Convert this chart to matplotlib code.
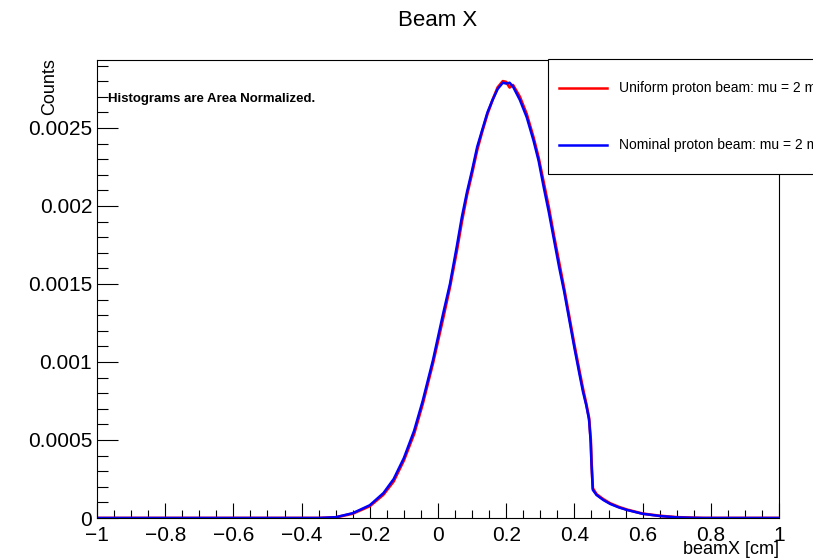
import matplotlib
matplotlib.use("Agg")
import matplotlib.pyplot as plt
from matplotlib.lines import Line2D
from matplotlib.patches import Rectangle
from matplotlib.ticker import FixedLocator, MultipleLocator

plt.rcParams["font.family"] = ["Liberation Sans", "DejaVu Sans"]

# beam X positions (cm) and area-normalized counts (x 1e-3)
beam_x = [-1.0, -0.35, -0.30, -0.25, -0.20, -0.16, -0.13, -0.10, -0.07, -0.045,
          -0.015, 0.015, 0.035, 0.055, 0.07, 0.085, 0.10, 0.115, 0.13, 0.145,
          0.16, 0.175, 0.19, 0.20, 0.21, 0.22, 0.24, 0.26, 0.28, 0.295,
          0.31, 0.325, 0.34, 0.355, 0.37, 0.385, 0.40, 0.415, 0.425, 0.435,
          0.443, 0.448, 0.450, 0.454, 0.465, 0.485, 0.505, 0.53, 0.555, 0.60,
          0.65, 0.70, 0.75, 0.78, 1.0]
uniform_counts = [0, 0, 0.004, 0.028, 0.076, 0.15, 0.235, 0.37, 0.54, 0.73,
                  0.99, 1.28, 1.48, 1.71, 1.90, 2.07, 2.21, 2.36, 2.48, 2.59,
                  2.68, 2.76, 2.80, 2.795, 2.76, 2.775, 2.70, 2.59, 2.44, 2.31,
                  2.15, 1.99, 1.81, 1.64, 1.47, 1.29, 1.11, 0.94, 0.83, 0.73,
                  0.64, 0.50, 0.37, 0.19, 0.152, 0.12, 0.094, 0.071, 0.053, 0.028,
                  0.014, 0.005, 0.0015, 0, 0]
nominal_counts = [0, 0, 0.005, 0.031, 0.082, 0.16, 0.25, 0.385, 0.56, 0.75,
                  1.01, 1.31, 1.50, 1.74, 1.93, 2.09, 2.23, 2.38, 2.49, 2.60,
                  2.68, 2.75, 2.79, 2.785, 2.79, 2.765, 2.68, 2.57, 2.42, 2.29,
                  2.12, 1.96, 1.785, 1.61, 1.45, 1.27, 1.09, 0.92, 0.81, 0.72,
                  0.63, 0.48, 0.35, 0.18, 0.147, 0.115, 0.09, 0.068, 0.051, 0.027,
                  0.013, 0.004, 0.001, 0, 0]

x_ticks = [-1, -0.8, -0.6, -0.4, -0.2, 0, 0.2, 0.4, 0.6, 0.8, 1]
x_tick_labels = ["\u22121", "\u22120.8", "\u22120.6", "\u22120.4", "\u22120.2", "0",
                 "0.2", "0.4", "0.6", "0.8", "1"]
y_ticks = [0, 0.0005, 0.001, 0.0015, 0.002, 0.0025]
y_tick_labels = ["0", "0.0005", "0.001", "0.0015", "0.002", "0.0025"]

fig = plt.figure(figsize=(8.13, 5.6), dpi=100)
ax = fig.add_axes([0.1193, 0.075, 0.8389, 0.8179])

ax.plot(beam_x, [v * 1e-3 for v in uniform_counts], color="#ff0000", lw=2.0)
ax.plot(beam_x, [v * 1e-3 for v in nominal_counts], color="#0000ff", lw=1.8)

ax.set_xlim(-1, 1)
ax.set_ylim(0, 0.002936)

ax.xaxis.set_major_locator(FixedLocator(x_ticks))
ax.set_xticklabels(x_tick_labels)
ax.xaxis.set_minor_locator(MultipleLocator(0.05))
ax.yaxis.set_major_locator(FixedLocator(y_ticks))
ax.set_yticklabels(y_tick_labels)
ax.yaxis.set_minor_locator(MultipleLocator(0.0001))

ax.tick_params(axis="x", which="major", direction="in", length=10.5, width=0.8,
               labelsize=15, pad=6, top=False)
ax.tick_params(axis="x", which="minor", direction="in", length=5.5, width=0.8, top=False)
ax.tick_params(axis="y", which="major", direction="in", length=15, width=0.8,
               labelsize=15, pad=3.5, right=False)
ax.tick_params(axis="y", which="minor", direction="in", length=8, width=0.8, right=False)
for s in ax.spines.values():
    s.set_linewidth(0.8)

ax.set_xlabel("beamX [cm]", fontsize=13, loc="right")
ax.xaxis.set_label_coords(1.0, -0.05)
ax.set_ylabel("Counts", fontsize=13, loc="top")
ax.yaxis.set_label_coords(-0.069, 1.004)
ax.yaxis.label.set_va("center")

fig.text(0.538, 0.9625, "Beam X", ha="center", va="center", fontsize=16)
ax.text(0.016, 0.915, "Histograms are Area Normalized.", transform=ax.transAxes,
        fontsize=9.5, fontweight="bold", va="center")

# legend box running past the right edge, as in the original
W, H = 813.0, 560.0
fig.patches.append(Rectangle((548 / W, 1 - 174 / H), 300 / W, 115 / H,
                             transform=fig.transFigure, fill=True, facecolor="white",
                             edgecolor="black", lw=0.8, clip_on=False))
fig.lines.append(Line2D([559 / W, 607 / W], [1 - 88 / H, 1 - 88 / H],
                        transform=fig.transFigure, color="#ff0000", lw=1.8))
fig.lines.append(Line2D([559 / W, 607 / W], [1 - 145 / H, 1 - 145 / H],
                        transform=fig.transFigure, color="#0000ff", lw=1.8))
fig.text(619 / W, 1 - 88 / H, "Uniform proton beam: mu = 2 mm", fontsize=10, va="center")
fig.text(619 / W, 1 - 145 / H, "Nominal proton beam: mu = 2 mm", fontsize=10, va="center")

fig.savefig("out.png", dpi=100)
